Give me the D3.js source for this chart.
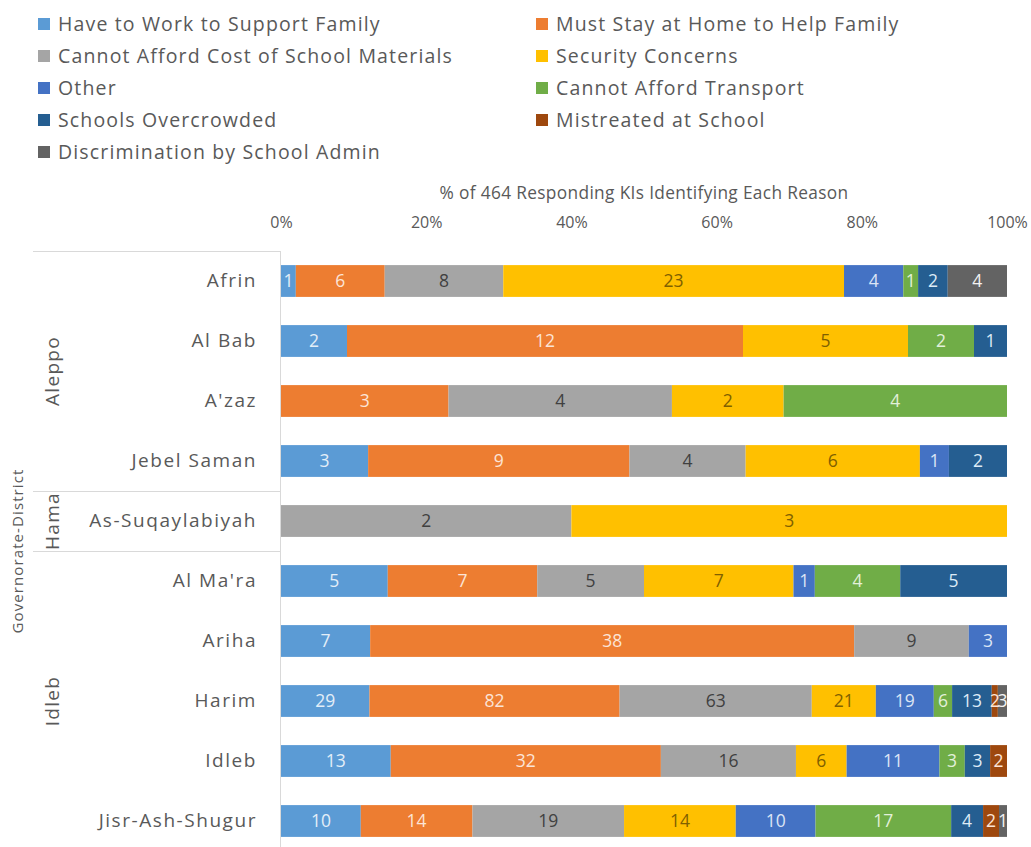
<!DOCTYPE html>
<html>
<head>
<meta charset="utf-8">
<script src="https://cdn.jsdelivr.net/npm/d3@7"></script>
<style>
  html, body { margin: 0; padding: 0; background: #fff; }
  svg { display: block; font-family: "Open Sans", "Noto Sans", sans-serif; }
</style>
</head>
<body>
<svg id="chart" width="1031" height="847"></svg>
<script>
// ---- Data ----
const districts = ["Afrin", "Al Bab", "A'zaz", "Jebel Saman", "As-Suqaylabiyah",
                   "Al Ma'ra", "Ariha", "Harim", "Idleb", "Jisr-Ash-Shugur"];
const governorates = ["Aleppo", "Aleppo", "Aleppo", "Aleppo", "Hama",
                      "Idleb", "Idleb", "Idleb", "Idleb", "Idleb"];
const seriesNames = ["Have to Work to Support Family", "Must Stay at Home to Help Family",
  "Cannot Afford Cost of School Materials", "Security Concerns", "Other",
  "Cannot Afford Transport", "Schools Overcrowded", "Mistreated at School",
  "Discrimination by School Admin"];
// counts per district, in the order of districts
const workSupport   = [1, 2, 0, 3, 0, 5, 7, 29, 13, 10];
const stayHome      = [6, 12, 3, 9, 0, 7, 38, 82, 32, 14];
const materials     = [8, 0, 4, 4, 2, 5, 9, 63, 16, 19];
const security      = [23, 5, 2, 6, 3, 7, 0, 21, 6, 14];
const other         = [4, 0, 0, 1, 0, 1, 3, 19, 11, 10];
const transport     = [1, 2, 4, 0, 0, 4, 0, 6, 3, 17];
const overcrowded   = [2, 1, 0, 2, 0, 5, 0, 13, 3, 4];
const mistreated    = [0, 0, 0, 0, 0, 0, 0, 2, 2, 2];
const discrimination= [4, 0, 0, 0, 0, 0, 0, 3, 0, 1];
const tickValues = [0, 0.2, 0.4, 0.6, 0.8, 1.0];
const axisTitle = "% of 464  Responding KIs Identifying Each Reason";
const yTitle = "Governorate-District";

const seriesValues = [workSupport, stayHome, materials, security, other,
                      transport, overcrowded, mistreated, discrimination];
const colors = ["#5B9BD5", "#ED7D31", "#A5A5A5", "#FFC000", "#4472C4",
                "#70AD47", "#255E91", "#9E480E", "#636363"];
const labelColors = ["#E3EEF8", "#FCE4D6", "#404040", "#7F6000", "#DCE5F5",
                     "#E2F0D9", "#DDEBF7", "#FCE4D6", "#F2F2F2"];

// ---- Build table ----
const rows = districts.map((d, i) => {
  const r = { district: d, gov: governorates[i] };
  seriesNames.forEach((s, k) => r[s] = seriesValues[k][i]);
  return r;
});
const stack = d3.stack().keys(seriesNames).offset(d3.stackOffsetExpand);
const stacked = stack(rows);

// ---- Layout ----
const svg = d3.select("#chart");
const plotLeft = 281, plotRight = 1007, plotTop = 251, plotBottom = 851;
const x = d3.scaleLinear().domain([0, 1]).range([plotLeft, plotRight]);
const y = d3.scaleBand().domain(districts).range([plotTop, plotBottom]).paddingInner(0.47).paddingOuter(0.235);
const textGray = "#595959";

// Legend
const legend = svg.append("g");
seriesNames.forEach((s, i) => {
  const col = i % 2, row = Math.floor(i / 2);
  const lx = col === 0 ? 38 : 536;
  const ly = 24 + row * 32;
  legend.append("rect").attr("x", lx).attr("y", ly - 6).attr("width", 12).attr("height", 12)
    .attr("fill", colors[i]);
  legend.append("text").attr("x", lx + 20).attr("y", ly).attr("dy", "0.35em")
    .attr("font-size", 19.5).attr("letter-spacing", 1.15).attr("fill", textGray).text(s);
});

// Axis title
svg.append("text").attr("x", (plotLeft + plotRight) / 2).attr("y", 193).attr("dy", "0.35em")
  .attr("text-anchor", "middle").attr("font-size", 17.3).attr("fill", textGray)
  .attr("letter-spacing", 0.35)
  .text(axisTitle);

// Top axis
const xAxis = d3.axisTop(x).tickValues(tickValues).tickFormat(d3.format(".0%")).tickSize(0).tickPadding(0);
const gx = svg.append("g").attr("transform", `translate(0,222)`).call(xAxis);
gx.select(".domain").remove();
gx.selectAll("text").attr("font-size", 16).attr("fill", textGray).attr("dy", "0.35em")
  .attr("font-family", "'Open Sans', sans-serif");

// Left axis (district labels)
const yAxis = d3.axisLeft(y).tickSize(0).tickPadding(24);
const gy = svg.append("g").attr("transform", `translate(${plotLeft},0)`).call(yAxis);
gy.select(".domain").remove();
gy.selectAll("text").attr("font-size", 19).attr("letter-spacing", 1.55).attr("fill", textGray)
  .attr("font-family", "'Open Sans', sans-serif");

// Vertical axis line
svg.append("line").attr("x1", plotLeft - 0.5).attr("x2", plotLeft - 0.5)
  .attr("y1", plotTop).attr("y2", plotBottom).attr("stroke", "#D9D9D9").attr("stroke-width", 1);

// Group lines and labels
const groups = [];
governorates.forEach((g, i) => {
  const last = groups[groups.length - 1];
  if (last && last.name === g) last.end = i; else groups.push({ name: g, start: i, end: i });
});
const step = y.step();
const bandTop = i => plotTop + i * step;
const gline = svg.append("g");
gline.append("line").attr("x1", 33).attr("x2", plotLeft).attr("y1", plotTop + 0.5).attr("y2", plotTop + 0.5)
  .attr("stroke", "#D9D9D9");
groups.forEach((g, gi) => {
  if (gi > 0) {
    const yy = bandTop(g.start) + 0.5;
    gline.append("line").attr("x1", 33).attr("x2", plotLeft).attr("y1", yy).attr("y2", yy).attr("stroke", "#D9D9D9");
  }
  const cy = (bandTop(g.start) + bandTop(g.end + 1)) / 2;
  svg.append("text").attr("transform", `translate(52,${cy}) rotate(-90)`)
    .attr("text-anchor", "middle").attr("dy", "0.35em").attr("font-size", 19)
    .attr("letter-spacing", 1.3).attr("fill", textGray)
    .text(g.name);
});

// Y title
svg.append("text").attr("transform", `translate(18,${(plotTop + plotBottom) / 2}) rotate(-90)`)
  .attr("text-anchor", "middle").attr("dy", "0.35em").attr("font-size", 15)
  .attr("letter-spacing", 1.1).attr("fill", textGray)
  .text(yTitle);

// Bars
const barsG = svg.append("g");
stacked.forEach((layer, k) => {
  const g = barsG.append("g");
  layer.forEach((seg, i) => {
    const v = seriesValues[k][i];
    if (!v) return;
    const x0 = x(seg[0]), x1 = x(seg[1]);
    g.append("rect").attr("x", x0).attr("y", y(districts[i])).attr("width", x1 - x0)
      .attr("height", y.bandwidth()).attr("fill", colors[k]);
  });
});
stacked.forEach((layer, k) => {
  const g = barsG.append("g");
  layer.forEach((seg, i) => {
    const v = seriesValues[k][i];
    if (!v) return;
    const x0 = x(seg[0]), x1 = x(seg[1]);
    g.append("text").attr("x", (x0 + x1) / 2).attr("y", y(districts[i]) + y.bandwidth() / 2)
      .attr("dy", "0.35em").attr("text-anchor", "middle").attr("font-size", 17.5)
      .attr("fill", labelColors[k]).text(v);
  });
});
</script>
</body>
</html>
